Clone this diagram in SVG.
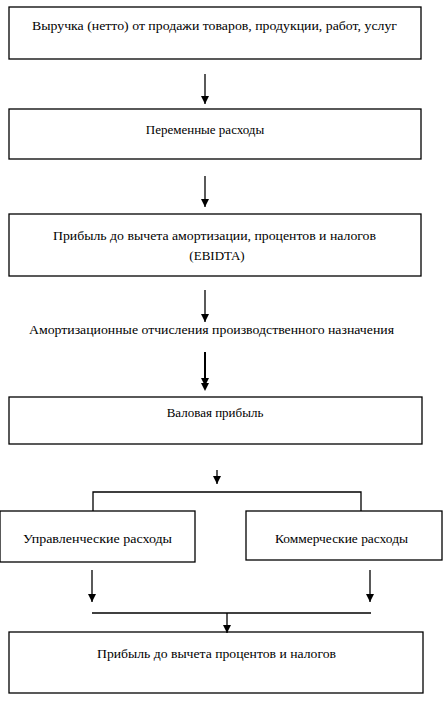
<svg xmlns="http://www.w3.org/2000/svg" width="447" height="701" viewBox="0 0 447 701">
<defs>
<marker id="ah" markerWidth="8" markerHeight="8" refX="8" refY="4" orient="auto" markerUnits="userSpaceOnUse" viewBox="0 0 8 8">
<path d="M0,0 L8,4 L0,8 Z" fill="#000"/>
</marker>
<style>
.box{fill:#fff;stroke:#000;stroke-width:1.3}
.t{font-family:"Liberation Serif","Times New Roman",serif;font-size:13px;fill:#000}
.c{fill:none;stroke:#000;stroke-width:1.3}
</style>
</defs>
<rect width="447" height="701" fill="#fff"/>
<g id="n1"><rect class="box" x="9" y="7" width="412" height="52"/><text class="t" x="32" y="30" textLength="365" lengthAdjust="spacingAndGlyphs">Выручка (нетто) от продажи товаров, продукции, работ, услуг</text></g>
<g id="n2"><rect class="box" x="9" y="109" width="412" height="50"/><text class="t" x="205" y="134" text-anchor="middle">Переменные расходы</text></g>
<g id="n3"><rect class="box" x="9" y="214" width="412" height="62"/><text class="t" x="53" y="240" textLength="323" lengthAdjust="spacingAndGlyphs">Прибыль до вычета амортизации, процентов и налогов</text><text class="t" x="217" y="260" text-anchor="middle">(EBIDTA)</text></g>
<g id="n4"><text class="t" x="29" y="334" textLength="365" lengthAdjust="spacingAndGlyphs">Амортизационные отчисления производственного назначения</text></g>
<g id="n5"><rect class="box" x="9" y="397" width="413" height="47"/><text class="t" x="215" y="417" text-anchor="middle">Валовая прибыль</text></g>
<g id="n6"><rect class="box" x="0" y="511" width="195" height="51"/><text class="t" x="23" y="543" textLength="149" lengthAdjust="spacingAndGlyphs">Управленческие расходы</text></g>
<g id="n7"><rect class="box" x="246" y="511" width="196" height="49"/><text class="t" x="275" y="543" textLength="133" lengthAdjust="spacingAndGlyphs">Коммерческие расходы</text></g>
<g id="n8"><rect class="box" x="9" y="632" width="414" height="61"/><text class="t" x="97" y="658" textLength="239" lengthAdjust="spacingAndGlyphs">Прибыль до вычета процентов и налогов</text></g>
<g id="connectors">
<line class="c" x1="205" y1="74" x2="205" y2="104" marker-end="url(#ah)"/>
<line class="c" x1="205" y1="176" x2="205" y2="207" marker-end="url(#ah)"/>
<line class="c" x1="205" y1="290" x2="205" y2="322" marker-end="url(#ah)"/>
<line class="c" style="stroke-width:2" x1="205" y1="352" x2="205" y2="386" marker-end="url(#ah)"/>
<path d="M201,383 L209,383 L205,391 Z" fill="#000"/>
<line class="c" x1="217" y1="470" x2="217" y2="484" marker-end="url(#ah)"/>
<polyline class="c" points="93,511 93,492 361,492 361,511"/>
<line class="c" x1="92" y1="570" x2="92" y2="602" marker-end="url(#ah)"/>
<line class="c" x1="370" y1="570" x2="370" y2="602" marker-end="url(#ah)"/>
<line class="c" x1="92" y1="613" x2="371" y2="613"/>
<line class="c" x1="227" y1="613" x2="227" y2="633" marker-end="url(#ah)"/>
</g>
</svg>
